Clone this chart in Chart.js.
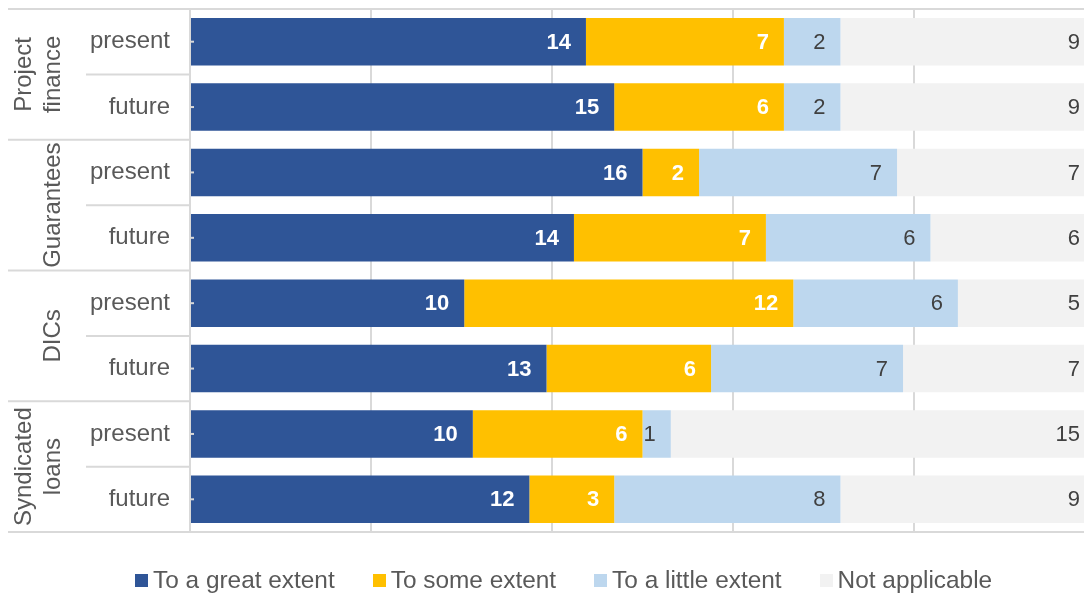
<!DOCTYPE html>
<html>
<head>
<meta charset="utf-8">
<script src="https://cdn.jsdelivr.net/npm/chart.js@4"></script>
<style>
  html, body { margin: 0; padding: 0; background: #fff; overflow: hidden; width: 1084px; height: 594px; }
  #wrap { position: absolute; left: 0; top: 0; width: 1100px; height: 594px; }
  #legend { position: absolute; left: 135px; top: 566px; display: flex; align-items: center;
            font-family: "Liberation Sans", Arial, sans-serif; font-size: 24.4px; color: #595959; white-space: nowrap; }
  #legend .item { display: flex; align-items: center; margin-right: 38px; }
  #legend .box { width: 13px; height: 13px; margin-right: 5px; }
</style>
</head>
<body>
<div id="wrap"><canvas id="chart" width="1100" height="594"></canvas></div>
<div id="legend"></div>
<script>
// rows: present / future per instrument
const rowLabels = ['present', 'future', 'present', 'future', 'present', 'future', 'present', 'future'];
const groupNames = [['Project', 'finance'], ['Guarantees'], ['DICs'], ['Syndicated', 'loans']];
const seriesNames = ['To a great extent', 'To some extent', 'To a little extent', 'Not applicable'];

// counts of answers
const greatExtent = [14, 15, 16, 14, 10, 13, 10, 12];
const someExtent = [7, 6, 2, 7, 12, 6, 6, 3];
const littleExtent = [2, 2, 7, 6, 6, 7, 1, 8];
const notApplicable = [9, 9, 7, 6, 5, 7, 15, 9];

const xTicks = [0, 0.2, 0.4, 0.6, 0.8, 1];

const colors = ['#2F5597', '#FFC000', '#BDD7EE', '#F2F2F2'];
const labelColors = ['#ffffff', '#ffffff', '#404040', '#404040'];
const labelBold = [true, true, false, false];
const FONT = '"Liberation Sans", Arial, sans-serif';
const lineColor = '#d9d9d9';

const series = [greatExtent, someExtent, littleExtent, notApplicable];
const totals = rowLabels.map((_, i) => series.reduce((s, arr) => s + arr[i], 0));

// 100% stacked: convert counts to shares
const datasets = series.map((arr, k) => ({
  label: seriesNames[k],
  data: arr.map((v, i) => v / totals[i]),
  counts: arr,
  backgroundColor: colors[k],
  borderWidth: 0,
  barPercentage: 0.727,
  categoryPercentage: 1
}));

// value labels at the end of each segment
const valueLabels = {
  id: 'valueLabels',
  afterDatasetsDraw(chart) {
    const ctx = chart.ctx;
    ctx.save();
    ctx.textAlign = 'right';
    ctx.textBaseline = 'middle';
    chart.data.datasets.forEach((ds, k) => {
      const meta = chart.getDatasetMeta(k);
      ctx.font = (labelBold[k] ? 'bold ' : '') + '22px ' + FONT;
      ctx.fillStyle = labelColors[k];
      meta.data.forEach((bar, i) => {
        ctx.fillText(String(ds.counts[i]), bar.x - 15, bar.y + 1);
      });
    });
    // small tick marks on the category axis
    const y = chart.scales.y;
    const left = chart.chartArea.left;
    ctx.strokeStyle = lineColor;
    ctx.lineWidth = 2;
    rowLabels.forEach((_, i) => {
      const py = y.getPixelForTick(i);
      ctx.beginPath();
      ctx.moveTo(left, py);
      ctx.lineTo(left + 4, py);
      ctx.stroke();
    });
    ctx.restore();
  }
};

// group labels and separators on the left
const groupAxis = {
  id: 'groupAxis',
  beforeDatasetsDraw(chart) {
    const ctx = chart.ctx;
    const area = chart.chartArea;
    const y = chart.scales.y;
    const pitch = y.getPixelForTick(1) - y.getPixelForTick(0);
    ctx.save();
    ctx.strokeStyle = lineColor;
    ctx.lineWidth = 2;
    // top and bottom lines
    [area.top, area.bottom].forEach(py => {
      ctx.beginPath();
      ctx.moveTo(8, py);
      ctx.lineTo(area.right, py);
      ctx.stroke();
    });
    rowLabels.forEach((_, i) => {
      if (i === rowLabels.length - 1) return;
      const py = y.getPixelForTick(i) + pitch / 2;
      ctx.beginPath();
      ctx.moveTo(i % 2 === 1 ? 8 : 86, py);
      ctx.lineTo(area.left, py);
      ctx.stroke();
    });
    ctx.fillStyle = '#595959';
    ctx.font = '24px ' + FONT;
    ctx.textAlign = 'center';
    ctx.textBaseline = 'middle';
    groupNames.forEach((lines, g) => {
      const cy = (y.getPixelForTick(g * 2) + y.getPixelForTick(g * 2 + 1)) / 2;
      lines.forEach((txt, j) => {
        const cx = 53 - (lines.length - 1 - j) * 29;
        ctx.save();
        ctx.translate(cx, cy);
        ctx.rotate(-Math.PI / 2);
        ctx.fillText(txt, 0, 0);
        ctx.restore();
      });
    });
    ctx.restore();
  }
};

new Chart(document.getElementById('chart'), {
  type: 'bar',
  data: { labels: rowLabels, datasets },
  options: {
    indexAxis: 'y',
    responsive: false,
    animation: false,
    layout: { padding: { top: 9, bottom: 62, left: 0, right: 5 } },
    scales: {
      x: {
        stacked: true,
        min: 0,
        max: 1,
        afterBuildTicks: scale => { scale.ticks = xTicks.map(v => ({ value: v })); },
        afterFit: scale => { scale.height = 0; scale.paddingLeft = 0; scale.paddingRight = 0; },
        ticks: { display: false },
        grid: { color: lineColor, lineWidth: 2, drawTicks: false },
        border: { display: false }
      },
      y: {
        stacked: true,
        afterFit: scale => {
          scale.width = 190;
          scale.paddingTop = 0;
          scale.paddingBottom = 0;
        },
        ticks: { color: '#595959', font: { family: FONT, size: 24 }, padding: 20 },
        grid: { display: false, drawTicks: false },
        border: { display: true, color: lineColor, width: 2 }
      }
    },
    plugins: {
      legend: { display: false },
      tooltip: { enabled: false }
    }
  },
  plugins: [groupAxis, valueLabels]
});

const legend = document.getElementById('legend');
seriesNames.forEach((name, k) => {
  const item = document.createElement('div');
  item.className = 'item';
  item.innerHTML = '<span class="box" style="background:' + colors[k] + '"></span><span>' + name + '</span>';
  legend.appendChild(item);
});
</script>
</body>
</html>
